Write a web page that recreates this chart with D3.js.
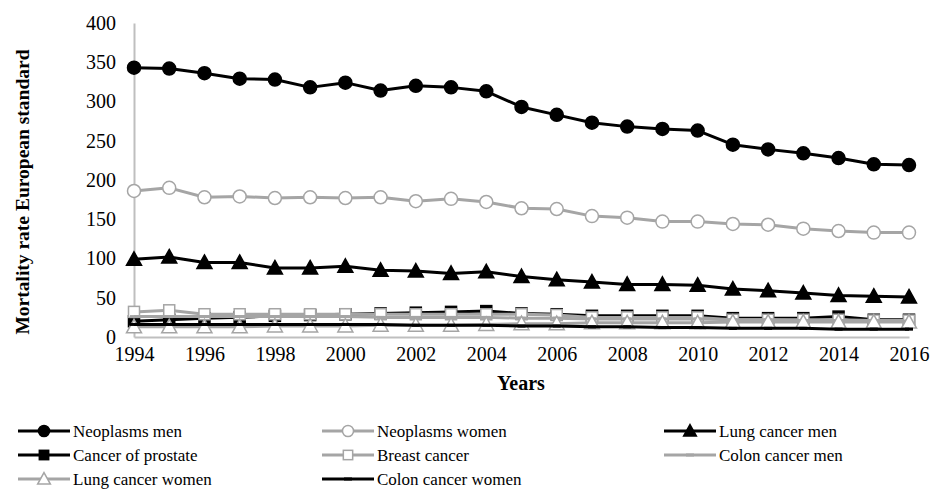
<!DOCTYPE html>
<html>
<head>
<meta charset="utf-8">
<script src="https://cdn.jsdelivr.net/npm/d3@7"></script>
<style>
  body { margin: 0; background: #fff; }
  svg text { font-family: "Liberation Serif", "Times New Roman", Times, serif !important; fill: #000; }
</style>
</head>
<body>
<svg id="chart" width="934" height="495"></svg>
<script>
// values
var years =       d3.range(1994, 2017)
var neoMen =      [343, 342, 336, 329, 328, 318, 324, 314, 320, 318, 313, 293, 283, 273, 268, 265, 263, 245, 239, 234, 228, 220, 219]
var neoWomen =    [186, 190, 178, 179, 177, 178, 177, 178, 173, 176, 172, 164, 163, 154, 152, 147, 147, 144, 143, 138, 135, 133, 133]
var lungMen =     [99, 102, 95, 95, 88, 88, 90, 85, 84, 81, 83, 77, 73, 70, 67, 67, 66, 61, 59, 56, 53, 52, 51]
var prostate =    [20, 22, 24, 25, 27, 28, 29, 30, 31, 32, 33, 30, 29, 27, 27, 27, 27, 24, 24, 24, 26, 22, 22]
var breast =      [32, 34, 29, 29, 29, 29, 29, 29, 29, 29, 29, 29, 28, 25, 25, 25, 25, 22, 22, 22, 22, 21, 21]
var colonMen =    [26, 26, 26, 26, 26, 26, 26, 25, 25, 25, 25, 24, 24, 23, 23, 23, 23, 22, 22, 21, 21, 21, 20]
var lungWomen =   [13, 13, 13, 13, 14, 14, 14, 15, 15, 15, 16, 17, 17, 18, 18, 18, 18, 19, 19, 19, 19, 19, 19]
var colonWomen =  [16, 16, 16, 16, 16, 16, 16, 16, 15, 15, 15, 14, 14, 13, 13, 12, 12, 11, 11, 11, 10, 10, 10]

var yTicks =      d3.range(0, 401, 50)
var xTicks =      d3.range(1994, 2017, 2)

var black = '#000'
var grey =  '#a5a5a5'

var series = [
    { name: 'Neoplasms men',      values: neoMen,     color: black, marker: 'circle',   fill: black },
    { name: 'Neoplasms women',    values: neoWomen,   color: grey,  marker: 'circle',   fill: '#fff' },
    { name: 'Lung cancer men',    values: lungMen,    color: black, marker: 'triangle', fill: black },
    { name: 'Cancer of prostate', values: prostate,   color: black, marker: 'square',   fill: black },
    { name: 'Breast cancer',      values: breast,     color: grey,  marker: 'square',   fill: '#fff' },
    { name: 'Colon cancer men',   values: colonMen,   color: grey,  marker: 'dash',     fill: grey },
    { name: 'Lung cancer women',  values: lungWomen,  color: grey,  marker: 'triangle', fill: '#fff' },
    { name: 'Colon cancer women', values: colonWomen, color: black, marker: 'dash',     fill: black }
]

var svg = d3.select('#chart')

var x = d3.scaleLinear().domain([1994, 2016]).range([134, 909])
var y = d3.scaleLinear().domain([0, 400]).range([337, 23])

// axes
var yAxis = svg.append('g')
    .attr('transform', 'translate(134,0)')
    .call(d3.axisLeft(y).tickValues(yTicks).tickSize(0).tickPadding(18))
yAxis.select('.domain').attr('stroke', '#bfbfbf').attr('stroke-width', 2)
yAxis.selectAll('text').attr('font-size', 20)

var xAxis = svg.append('g')
    .attr('transform', 'translate(0,337)')
    .call(d3.axisBottom(x).tickValues(xTicks).tickFormat(d3.format('d')).tickSize(0).tickPadding(10))
xAxis.select('.domain').attr('stroke', '#bfbfbf').attr('stroke-width', 2)
xAxis.selectAll('text').attr('font-size', 20)

svg.append('text')
    .attr('x', 521).attr('y', 390)
    .attr('text-anchor', 'middle')
    .attr('font-size', 20).attr('font-weight', 'bold')
    .text('Years')

svg.append('text')
    .attr('transform', 'translate(29,192) rotate(-90)')
    .attr('text-anchor', 'middle')
    .attr('font-size', 19.5).attr('font-weight', 'bold')
    .text('Mortality rate European standard')

function drawMarker(g, s, cx, cy, scale) {
    scale = scale || 1
    if (s.marker == 'circle') {
        g.append('circle').attr('cx', cx).attr('cy', cy).attr('r', 6.5 * scale)
            .attr('fill', s.fill).attr('stroke', s.color).attr('stroke-width', 1.5)
    } else if (s.marker == 'triangle') {
        var h = 7.5 * scale
        g.append('path')
            .attr('d', 'M' + cx + ',' + (cy - h) + 'L' + (cx + h) + ',' + (cy + h * 0.8) + 'L' + (cx - h) + ',' + (cy + h * 0.8) + 'Z')
            .attr('fill', s.fill).attr('stroke', s.color).attr('stroke-width', 1.5)
    } else if (s.marker == 'square') {
        var a = 5.5 * scale
        g.append('rect').attr('x', cx - a).attr('y', cy - a).attr('width', 2 * a).attr('height', 2 * a)
            .attr('fill', s.fill).attr('stroke', s.color).attr('stroke-width', 1.5)
    } else {
        g.append('line').attr('x1', cx - 4).attr('x2', cx + 4).attr('y1', cy).attr('y2', cy)
            .attr('stroke', s.color).attr('stroke-width', 3)
    }
}

var line = d3.line().x((d, i) => x(years[i])).y(d => y(d))

series.forEach(s => {
    var g = svg.append('g')
    g.append('path')
        .attr('d', line(s.values))
        .attr('fill', 'none')
        .attr('stroke', s.color)
        .attr('stroke-width', 3)
        .attr('stroke-linejoin', 'round')
    s.values.forEach((v, i) => drawMarker(g, s, x(years[i]), y(v)))
})

// legend, three columns
var legendCols = [18, 322, 664]
var legendRows = [431, 455, 479]
series.forEach((s, i) => {
    var lx = legendCols[i % 3]
    var ly = legendRows[Math.floor(i / 3)]
    var g = svg.append('g')
    g.append('line').attr('x1', lx).attr('x2', lx + 52).attr('y1', ly).attr('y2', ly)
        .attr('stroke', s.color).attr('stroke-width', 3)
    drawMarker(g, s, lx + 26, ly, 0.85)
    g.append('text')
        .attr('x', lx + 55).attr('y', ly)
        .attr('dy', '0.35em')
        .attr('font-size', 17)
        .text(s.name)
})
</script>
</body>
</html>
